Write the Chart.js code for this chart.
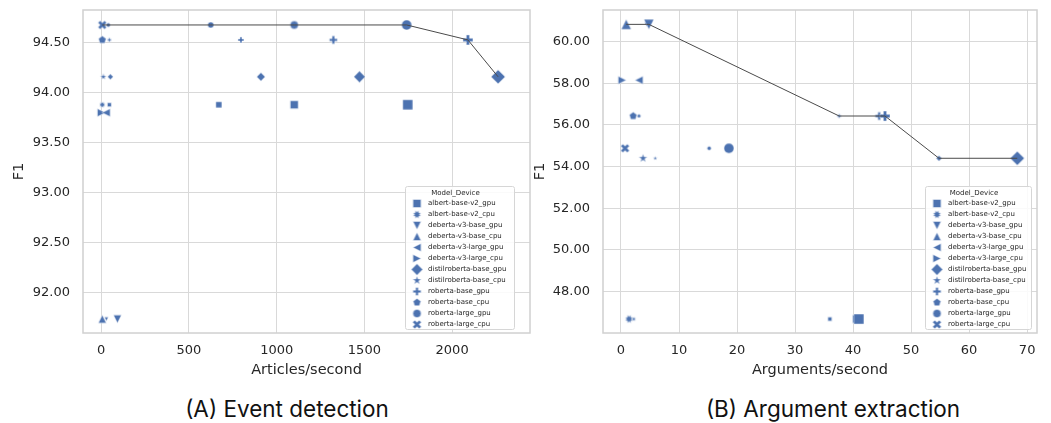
<!DOCTYPE html>
<html>
<head>
<meta charset="utf-8">
<script src="https://cdn.jsdelivr.net/npm/chart.js@4.4.0/dist/chart.umd.min.js"></script>
<style>
  body { margin: 0; background: #fff; width: 1051px; height: 423px; position: relative; overflow: hidden; }
  .box { position: absolute; top: 0; height: 385px; }
  .cap { position: absolute; top: 395px; font: 22.5px Inter, sans-serif; color: #111; transform: translateX(-50%); white-space: nowrap; }
</style>
</head>
<body>
<div class="box" style="left:0;width:540px"><canvas id="ev"></canvas></div>
<div class="box" style="left:528px;width:523px"><canvas id="arg"></canvas></div>
<div class="cap" style="left:287px">(A) Event detection</div>
<div class="cap" style="left:833px">(B) Argument extraction</div>
<script>
// ////// data /////////
const models = ['albert-base-v2', 'deberta-v3-base', 'deberta-v3-large', 'distilroberta-base', 'roberta-base', 'roberta-large'];
const eventF1 = [93.88, 91.73, 93.80, 94.16, 94.53, 94.68];
const argF1 = [46.68, 60.83, 58.15, 54.40, 56.43, 54.88];

const series = ['albert-base-v2_gpu', 'albert-base-v2_cpu', 'deberta-v3-base_gpu', 'deberta-v3-base_cpu',
  'deberta-v3-large_gpu', 'deberta-v3-large_cpu', 'distilroberta-base_gpu', 'distilroberta-base_cpu',
  'roberta-base_gpu', 'roberta-base_cpu', 'roberta-large_gpu', 'roberta-large_cpu'];

// articles/second, one list per model_device
const eventSpeed = [[46, 670, 1100, 1747], [6], [29, 92], [6], [28], [0.5],
  [52, 910, 1472, 2262], [12], [46, 796, 1323, 2090], [6], [40, 624, 1100, 1741], [6]];
const eventBatch = [[1, 8, 16, 32], [8], [1, 16], [16], [16], [16],
  [1, 8, 16, 32], [8], [1, 8, 16, 32], [16], [1, 8, 16, 32], [16]];

// arguments/second
const argSpeed = [[36.0, 40.6, 41.0], [1.4, 2.2], [4.4, 4.8], [0.9], [3.1], [0.2],
  [54.8, 68.3], [3.8, 5.9], [37.6, 44.5, 45.5], [2.1, 3.1], [15.2, 18.6], [0.7]];
const argBatch = [[1, 16, 32], [16, 1], [1, 32], [32], [16], [16],
  [1, 32], [16, 1], [1, 16, 32], [16, 1], [1, 32], [16]];

const eventTicksX = [0, 500, 1000, 1500, 2000];
const argTicksX = [0, 10, 20, 30, 40, 50, 60, 70];

// ////// markers /////////
const BLUE = '#4c72b0';
const shapes = ['square', 'burst', 'tri_down', 'tri_up', 'tri_left', 'tri_right',
  'diamond', 'star', 'plus', 'pentagon', 'circle', 'xfill'];
const sizeByBatch = {1: 4, 8: 6, 16: 8, 32: 10};

function starPath(g, n, ro, ri, rot) {
  for (let k = 0; k < n * 2; k++) {
    const r = k % 2 ? ri : ro;
    const a = rot + Math.PI * k / n;
    const px = r * Math.sin(a), py = -r * Math.cos(a);
    k ? g.lineTo(px, py) : g.moveTo(px, py);
  }
}
function crossPath(g, h, rot) {
  const t = h / 3;
  const pts = [[-t, -h], [t, -h], [t, -t], [h, -t], [h, t], [t, t], [t, h], [-t, h], [-t, t], [-h, t], [-h, -t], [-t, -t]];
  const c = Math.cos(rot), s = Math.sin(rot);
  pts.forEach((p, k) => {
    const px = p[0] * c - p[1] * s, py = p[0] * s + p[1] * c;
    k ? g.lineTo(px, py) : g.moveTo(px, py);
  });
}
function shapePath(g, shape, s) {
  const h = s / 2;
  g.beginPath();
  switch (shape) {
    case 'square': g.rect(-h, -h, s, s); break;
    case 'circle': g.arc(0, 0, h, 0, Math.PI * 2); break;
    case 'diamond': { const d = h * Math.SQRT2; g.moveTo(0, -d); g.lineTo(d, 0); g.lineTo(0, d); g.lineTo(-d, 0); break; }
    case 'tri_up': g.moveTo(0, -h); g.lineTo(h, h); g.lineTo(-h, h); break;
    case 'tri_down': g.moveTo(0, h); g.lineTo(h, -h); g.lineTo(-h, -h); break;
    case 'tri_left': g.moveTo(-h, 0); g.lineTo(h, -h); g.lineTo(h, h); break;
    case 'tri_right': g.moveTo(h, 0); g.lineTo(-h, -h); g.lineTo(-h, h); break;
    case 'plus': crossPath(g, h, 0); break;
    case 'xfill': crossPath(g, h * 1.15, Math.PI / 4); break;
    case 'pentagon': for (let k = 0; k < 5; k++) { const a = Math.PI * 2 * k / 5; k ? g.lineTo(h * Math.sin(a), -h * Math.cos(a)) : g.moveTo(0, -h); } break;
    case 'star': starPath(g, 5, h * 1.15, h * 0.45, 0); break;
    case 'burst': starPath(g, 8, h * 1.05, h * 0.62, Math.PI / 8); break;
  }
  g.closePath();
}
const cache = {};
function marker(shape, s) {
  const key = shape + s;
  if (cache[key]) return cache[key];
  const c = document.createElement('canvas');
  c.width = c.height = Math.ceil(s * 1.6) + 4;
  const g = c.getContext('2d');
  g.translate(c.width / 2, c.height / 2);
  shapePath(g, shape, s);
  g.fillStyle = BLUE;
  g.fill();
  g.strokeStyle = 'rgba(255,255,255,0.9)';
  g.lineWidth = 0.5;
  g.stroke();
  cache[key] = c;
  return c;
}

const baseModel = name => name.replace(/_(gpu|cpu)$/, '');

function buildDatasets(speed, batch, f1) {
  const sets = series.map((name, i) => ({
    label: name,
    type: 'scatter',
    data: speed[i].map((x, j) => ({x: x, y: f1[models.indexOf(baseModel(name))], b: batch[i][j]})),
    pointStyle: ctx => marker(shapes[i], sizeByBatch[ctx.raw ? ctx.raw.b : 8]),
    pointRadius: ctx => (ctx.raw ? sizeByBatch[ctx.raw.b] : 8) / 2,
    backgroundColor: BLUE,
    borderColor: BLUE
  }));
  // pareto front of speed vs F1
  const pts = [];
  sets.forEach(d => d.data.forEach(p => pts.push({x: p.x, y: p.y})));
  pts.sort((a, b) => b.x - a.x);
  let best = -Infinity;
  const front = [];
  pts.forEach(p => { if (p.y >= best) { best = p.y; front.push(p); } });
  front.sort((a, b) => a.x - b.x);
  sets.push({
    label: 'front',
    type: 'line',
    data: front,
    borderColor: '#4a4a4a',
    borderWidth: 1,
    pointRadius: 0,
    order: -1
  });
  return sets;
}

// ////// frame round the plot (all four spines) /////////
const frame = {
  id: 'frame',
  beforeDatasetsDraw(chart) {
    const g = chart.ctx, a = chart.chartArea;
    g.save();
    g.strokeStyle = '#d0d0d0';
    g.lineWidth = 1.5;
    g.strokeRect(a.left, a.top, a.right - a.left, a.bottom - a.top);
    g.restore();
  }
};

// ////// legend inside plot /////////
const mdLegend = {
  id: 'mdLegend',
  afterDatasetsDraw(chart, args, opts) {
    const g = chart.ctx, a = chart.chartArea;
    const w = opts.width, h = 143;
    const x0 = a.right - opts.right - w, y0 = a.bottom - opts.bottom - h;
    g.save();
    g.beginPath();
    g.roundRect(x0 + 0.5, y0 + 0.5, w, h, 2);
    g.fillStyle = 'rgba(255,255,255,0.85)';
    g.fill();
    g.strokeStyle = '#d6d6d6';
    g.lineWidth = 1;
    g.stroke();
    g.font = '7px "DejaVu Sans"';
    g.fillStyle = '#262626';
    g.textBaseline = 'middle';
    g.textAlign = 'center';
    g.fillText('Model_Device', x0 + w / 2 - 4, y0 + 7);
    g.textAlign = 'left';
    series.forEach((name, i) => {
      const y = y0 + 17.5 + i * 11;
      const m = marker(shapes[i], 8);
      g.drawImage(m, x0 + 12 - m.width / 2, y - m.height / 2);
      g.fillStyle = '#262626';
      g.fillText(name, x0 + 23, y);
    });
    g.restore();
  }
};

// no extra room for overflowing tick labels, the plot box is fixed
function noPad(s) { s.paddingTop = s.paddingBottom = s.paddingLeft = s.paddingRight = 0; }

const tickFont = {family: 'DejaVu Sans', size: 13};
const titleFont = {family: 'DejaVu Sans', size: 14.5};
function makeChart(el, cfg) {
  return new Chart(document.getElementById(el), {
    data: {datasets: buildDatasets(cfg.speed, cfg.batch, cfg.f1)},
    plugins: [frame, mdLegend],
    options: {
      responsive: true,
      maintainAspectRatio: false,
      animation: false,
      events: [],
      layout: {padding: {top: 10, right: cfg.padRight, left: 0, bottom: 0}},
      plugins: {
        legend: {display: false},
        tooltip: {enabled: false},
        mdLegend: cfg.legend
      },
      scales: {
        x: {
          type: 'linear',
          min: cfg.xMin, max: cfg.xMax,
          afterBuildTicks: s => { s.ticks = cfg.xTicks.map(v => ({value: v})); },
          afterFit: s => { s.height = 52; noPad(s); },
          grid: {color: '#d9d9d9', lineWidth: 1, drawTicks: false},
          border: {display: false},
          ticks: {font: tickFont, color: '#262626', padding: 10, callback: v => String(v)},
          title: {display: true, text: cfg.xTitle, font: titleFont, color: '#262626', padding: {top: 0, bottom: 6}}
        },
        y: {
          min: cfg.yMin, max: cfg.yMax,
          ticks: {stepSize: cfg.yStep, font: tickFont, color: '#262626', padding: 13, includeBounds: false,
            callback: v => v.toFixed(2)},
          afterFit: s => { s.width = cfg.yWidth; noPad(s); },
          grid: {color: '#d9d9d9', lineWidth: 1, drawTicks: false},
          border: {display: false},
          title: {display: true, text: 'F1', font: titleFont, color: '#262626', padding: {top: cfg.f1Pad, bottom: 0}}
        }
      }
    }
  });
}

makeChart('ev', {
  speed: eventSpeed, batch: eventBatch, f1: eventF1,
  xMin: -104, xMax: 2444, xTicks: eventTicksX, xTitle: 'Articles/second',
  yMin: 91.59, yMax: 94.83, yStep: 0.5,
  yWidth: 83, padRight: 10, f1Pad: 11,
  legend: {width: 109, right: 16, bottom: 4}
});

makeChart('arg', {
  speed: argSpeed, batch: argBatch, f1: argF1,
  xMin: -3.1, xMax: 71.7, xTicks: argTicksX, xTitle: 'Arguments/second',
  yMin: 46.01, yMax: 61.52, yStep: 2,
  yWidth: 75, padRight: 14, f1Pad: 4,
  legend: {width: 106, right: 6, bottom: 4}
});
</script>
</body>
</html>
